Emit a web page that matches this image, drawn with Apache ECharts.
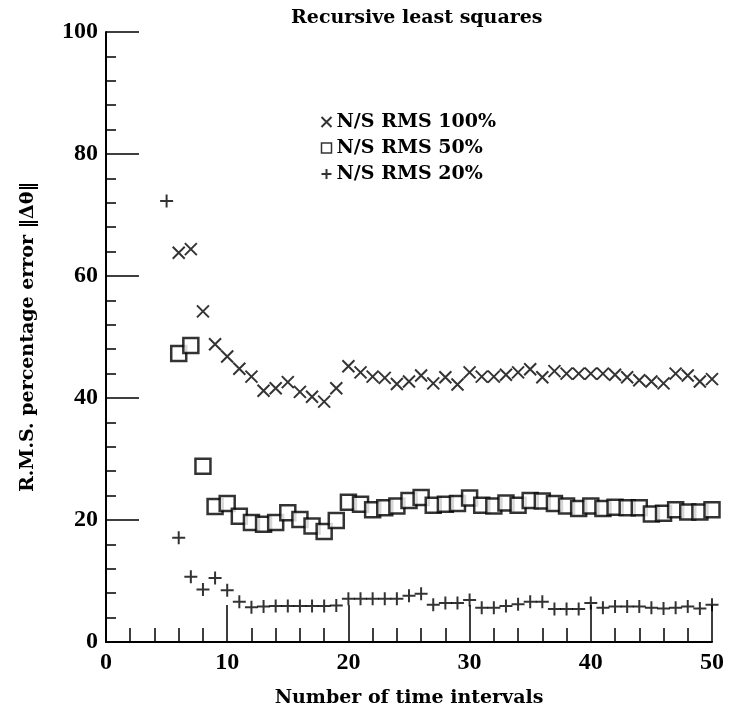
<!DOCTYPE html>
<html><head><meta charset="utf-8">
<script src="https://cdn.jsdelivr.net/npm/echarts@6/dist/echarts.min.js"></script>
<style>html,body{margin:0;padding:0;background:#fff}#c{width:729px;height:723px}</style>
</head><body><div id="c"></div>
<script>
// x (time interval) positions
const x100 = [6,7,8,9,10,11,12,13,14,15,16,17,18,19,20,21,22,23,24,25,26,27,28,29,30,31,32,33,34,35,36,37,38,39,40,41,42,43,44,45,46,47,48,49,50];
const y100 = [63.8,64.4,54.2,48.8,46.8,44.8,43.5,41.2,41.6,42.6,41.0,40.2,39.4,41.6,45.2,44.2,43.5,43.3,42.3,42.7,43.7,42.4,43.4,42.2,44.2,43.5,43.5,43.8,44.2,44.7,43.4,44.4,44.0,44.0,44.0,44.0,43.8,43.4,42.9,42.7,42.4,44.0,43.7,42.7,43.1];
const x50 = [6,7,8,9,10,11,12,13,14,15,16,17,18,19,20,21,22,23,24,25,26,27,28,29,30,31,32,33,34,35,36,37,38,39,40,41,42,43,44,45,46,47,48,49,50];
const y50 = [47.3,48.6,28.8,22.2,22.7,20.6,19.6,19.3,19.6,21.2,20.1,19.0,18.1,19.9,22.9,22.6,21.7,22.0,22.3,23.2,23.7,22.4,22.6,22.7,23.6,22.4,22.3,22.8,22.4,23.2,23.1,22.7,22.3,21.9,22.3,21.9,22.1,22.0,22.0,21.0,21.1,21.7,21.3,21.3,21.7];
const x20 = [5,6,7,8,9,10,11,12,13,14,15,16,17,18,19,20,21,22,23,24,25,26,27,28,29,30,31,32,33,34,35,36,37,38,39,40,41,42,43,44,45,46,47,48,49,50];
const y20 = [72.3,17.1,10.7,8.6,10.5,8.5,6.6,5.7,5.8,5.9,5.9,5.9,5.9,5.9,6.0,7.1,7.1,7.1,7.1,7.1,7.6,7.9,6.1,6.4,6.4,6.9,5.6,5.6,5.9,6.2,6.6,6.6,5.4,5.4,5.4,6.4,5.6,5.8,5.8,5.8,5.6,5.5,5.6,5.8,5.5,6.1];
const seriesNames = ['N/S RMS 100%','N/S RMS 50%','N/S RMS 20%'];
const xTicks = [0,10,20,30,40,50];
const yTicks = [0,20,40,60,80,100];

const FONT = 'Liberation Serif';
const TFONT = 'DejaVu Serif';
const CROSS = 'path://M0,0L10,10M10,0L0,10';
const PLUS = 'path://M5,0L5,10M0,5L10,5';
const pair = (xs, ys) => xs.map((x, i) => [x, ys[i]]);

const chart = echarts.init(document.getElementById('c'), null, {renderer: 'canvas'});
chart.setOption({
  backgroundColor: '#fff',
  animation: false,
  title: {
    text: 'Recursive least squares',
    left: 291, top: 9, padding: 0,
    textStyle: {fontFamily: TFONT, fontSize: 19, fontWeight: 'bold', color: '#000'}
  },
  legend: {
    orient: 'vertical', left: 314, top: 106, itemGap: 4,
    itemWidth: 10, itemHeight: 10,
    textStyle: {fontFamily: TFONT, fontSize: 19, fontWeight: 'bold', color: '#000', lineHeight: 22},
    data: [
      {name: seriesNames[0], icon: CROSS},
      {name: seriesNames[1], icon: 'rect', itemStyle: {borderWidth: 1.5}},
      {name: seriesNames[2], icon: PLUS}
    ]
  },
  grid: {left: 106, right: 17, top: 32, bottom: 81},
  xAxis: {
    type: 'value', min: xTicks[0], max: xTicks[xTicks.length-1], interval: 10,
    axisLine: {lineStyle: {color: '#000', width: 2}},
    axisTick: {inside: true, length: 37, lineStyle: {color: '#000', width: 1.5}},
    minorTick: {show: true, splitNumber: 5, length: 14, lineStyle: {color: '#000', width: 1.5}},
    splitLine: {show: false},
    axisLabel: {color: '#000', fontFamily: FONT, fontSize: 24, fontWeight: 'bold', margin: 9},
    name: 'Number of time intervals', nameLocation: 'middle', nameGap: 47,
    nameTextStyle: {color: '#000', fontFamily: TFONT, fontSize: 19, fontWeight: 'bold'}
  },
  yAxis: {
    type: 'value', min: yTicks[0], max: yTicks[yTicks.length-1], interval: 20,
    axisLine: {lineStyle: {color: '#000', width: 2}},
    axisTick: {inside: true, length: 33, lineStyle: {color: '#000', width: 1.5}},
    minorTick: {show: true, splitNumber: 5, length: 10, lineStyle: {color: '#000', width: 1.5}},
    splitLine: {show: false},
    axisLabel: {color: '#000', fontFamily: FONT, fontSize: 24, fontWeight: 'bold', margin: 8},
    name: 'R.M.S. percentage error \u2016\u0394\u03B8\u2016', nameLocation: 'middle', nameGap: 68,
    nameTextStyle: {color: '#000', fontFamily: TFONT, fontSize: 19, fontWeight: 'bold'}
  },
  series: [
    {name: seriesNames[0], type: 'scatter', data: pair(x100, y100), symbol: CROSS, symbolSize: 12,
     itemStyle: {color: 'none', borderColor: '#000', borderWidth: 2}},
    {name: seriesNames[1], type: 'scatter', data: pair(x50, y50), symbol: 'rect', symbolSize: 15,
     itemStyle: {color: '#fff', borderColor: '#000', borderWidth: 2.5}},
    {name: seriesNames[2], type: 'scatter', data: pair(x20, y20), symbol: PLUS, symbolSize: 13,
     itemStyle: {color: 'none', borderColor: '#000', borderWidth: 2}}
  ]
});
</script></body></html>
